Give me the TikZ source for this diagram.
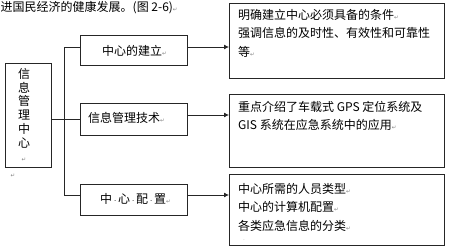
\documentclass[tikz,border=0pt]{standalone}
\usepackage{fontspec}
\setmainfont{Noto Sans CJK SC}
\newfontfamily\dvfont{DejaVu Sans}
\usetikzlibrary{arrows.meta}
\newcommand\parmk{{\dvfont\fontsize{5.5}{5.5}\selectfont\textcolor{gray}{↵}}}
\newcommand\dotgap{\makebox[6pt]{\dvfont\fontsize{7}{7}\selectfont ·}}
\begin{document}
\begin{tikzpicture}[x=1pt,y=-1pt,
  box/.style={draw=black!85,line width=0.8pt,inner sep=0pt,anchor=north west},
  txt/.style={inner sep=0pt,font=\fontsize{12}{12}\selectfont},
  multi/.style={inner sep=0pt,align=left,anchor=north west,font=\fontsize{12}{18.5}\selectfont},
  conn/.style={draw=black!85,line width=0.8pt},
  arr/.style={conn,-{Latex[length=5pt,width=5pt]}}]
\useasboundingbox (0,0) rectangle (450,249);
% header
\node[txt,anchor=west] (hd) at (0.5,8) {进国民经济的健康发展。(图 2-6)\parmk};
% left box
\node[box,minimum width=46pt,minimum height=104pt] (L) at (5,63) {};
\node[inner sep=0pt,anchor=north,align=center,font=\fontsize{12}{13.8}\selectfont] (Lt) at (24,68) {信\\息\\管\\理\\中\\心\\\parmk};
\node[inner sep=0pt] (Lp) at (13,176) {\parmk};
% middle boxes
\node[box,minimum width=107pt,minimum height=30pt] (m1) at (80,35) {};
\node[box,minimum width=107pt,minimum height=32pt] (m2) at (80,103) {};
\node[box,minimum width=107pt,minimum height=31pt] (m3) at (80,184) {};
\node[txt,anchor=west] (m1t) at (102,51) {中心的建立\parmk};
\node[txt,anchor=west] (m2t) at (88,118) {信息管理技术\parmk};
\node[txt,anchor=west] (m3t) at (100,199) {中\dotgap 心\dotgap 配\dotgap 置\parmk};
% right boxes
\node[box,minimum width=215pt,minimum height=75pt] (r1) at (229,3) {};
\node[box,minimum width=215pt,minimum height=73pt] (r2) at (229,94) {};
\node[box,minimum width=215pt,minimum height=71pt] (r3) at (229,174) {};
\node[multi] (r1t) at (238,9) {明确建立中心必须具备的条件\parmk\\强调信息的及时性、有效性和可靠性\\等\parmk};
\node[multi] (r2t) at (238,101) {重点介绍了车载式 GPS 定位系统及\\GIS 系统在应急系统中的应用\parmk};
\node[multi] (r3t) at (238,183) {中心所需的人员类型\parmk\\中心的计算机配置\parmk\\各类应急信息的分类\parmk};
\node[inner sep=0pt,text=gray,font=\fontsize{5}{5}\selectfont] (r3d) at (244,240) {.};
% connectors
\coordinate (j1) at (64,47);
\coordinate (j3) at (64,195);
\coordinate (a2) at (64,115);
\draw[conn] (j1) -- (j3);
\draw[conn] (j1) -- (j1 -| m1.west);
\draw[conn] (j3) -- (j3 -| m3.west);
\draw[conn] (L.east |- m2.west) -- (m2.west);
\draw[arr] (m1.east |- j1) -- (r1.west |- j1);
\draw[arr] (m2.east |- a2) -- (r2.west |- a2);
\draw[arr] (m3.east |- j3) -- (r3.west |- j3);
\end{tikzpicture}
\end{document}
